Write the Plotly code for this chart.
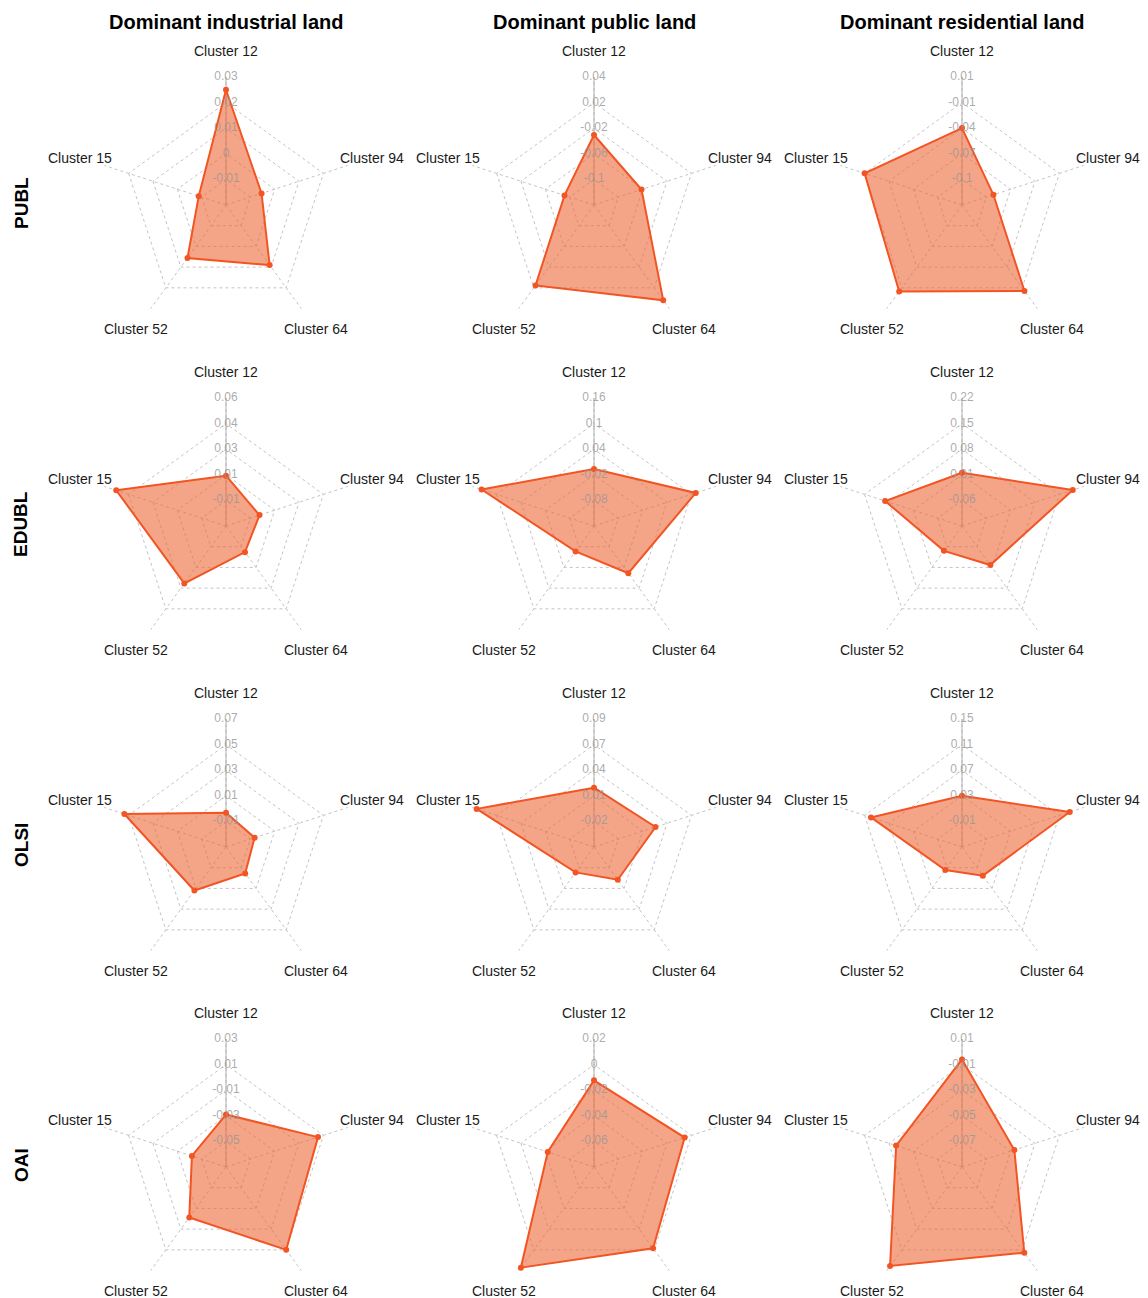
import math
import plotly.graph_objects as go

# ---- data -------------------------------------------------------------
clusters = ["Cluster 12", "Cluster 94", "Cluster 64", "Cluster 52", "Cluster 15"]
land_types = ["Dominant industrial land", "Dominant public land", "Dominant residential land"]
indicators = ["PUBL", "EDUBL", "OLSI", "OAI"]

# values per land type, in the order of `clusters`
publ_values = [
    [0.0250, -0.0054, 0.0090, 0.0056, -0.0088],
    [-0.0393, -0.0667, 0.0260, 0.0010, -0.0926],
    [-0.0449, -0.0920, -0.0134, -0.0127, -0.0175],
]
edubl_values = [
    [0.0069, -0.0034, -0.0054, 0.0210, 0.0514],
    [-0.0065, 0.1107, -0.0032, -0.0664, 0.1370],
    [0.0157, 0.1885, 0.0020, -0.0460, 0.0910],
]
olsi_values = [
    [-0.0032, -0.0065, -0.0045, 0.0120, 0.0535],
    [0.0162, 0.0220, -0.0040, -0.0138, 0.0850],
    [0.0300, 0.1270, 0.0054, -0.0056, 0.0995],
]
oai_values = [
    [-0.0290, 0.0056, 0.0100, -0.0212, -0.0420],
    [-0.0123, -0.0055, -0.0015, 0.0172, -0.0420],
    [-0.0060, -0.0470, -0.0072, 0.0056, -0.0359],
]

# radial axis (value at centre, value at outer ring) per chart
publ_axis = [(-0.02, 0.03), (-0.135, 0.04), (-0.1275, 0.01)]
edubl_axis = [(-0.0275, 0.06), (-0.14, 0.16), (-0.13, 0.22)]
olsi_axis = [(-0.03, 0.07), (-0.0475, 0.09), (-0.05, 0.15)]
oai_axis = [(-0.07, 0.03), (-0.08, 0.02), (-0.09, 0.01)]

# ring labels, from innermost ring to outer ring
publ_ticks = [
    ["-0.01", "0", "0.01", "0.02", "0.03"],
    ["-0.1", "-0.06", "-0.02", "0.02", "0.04"],
    ["-0.1", "-0.07", "-0.04", "-0.01", "0.01"],
]
edubl_ticks = [
    ["-0.01", "0.01", "0.03", "0.04", "0.06"],
    ["-0.08", "-0.02", "0.04", "0.1", "0.16"],
    ["-0.06", "0.01", "0.08", "0.15", "0.22"],
]
olsi_ticks = [
    ["-0.01", "0.01", "0.03", "0.05", "0.07"],
    ["-0.02", "0.01", "0.04", "0.07", "0.09"],
    ["-0.01", "0.03", "0.07", "0.11", "0.15"],
]
oai_ticks = [
    ["-0.05", "-0.03", "-0.01", "0.01", "0.03"],
    ["-0.06", "-0.04", "-0.02", "0", "0.02"],
    ["-0.07", "-0.05", "-0.03", "-0.01", "0.01"],
]

values = [publ_values, edubl_values, olsi_values, oai_values]
axes = [publ_axis, edubl_axis, olsi_axis, oai_axis]
ticks = [publ_ticks, edubl_ticks, olsi_ticks, oai_ticks]

# ---- layout geometry ---------------------------------------------------
W, H = 1148, 1298
col_cx = [226, 594, 962]
row_cy = [205, 526, 847, 1167]
R = 128            # radius of the outer ring, px
N_SEG = 5
LABEL_R = 1.2 * R  # distance of the cluster names from the centre
N_PANELS = len(indicators) * len(land_types)

FONT = "Liberation Sans, Arial, Helvetica, sans-serif"
LINE = "rgb(242, 85, 35)"
FILL = "rgba(236, 100, 50, 0.58)"
GRID = "#c4c4c4"


def polar_name(n):
    return "polar" if n == 1 else f"polar{n}"


fig = go.Figure()
layout_polars = {}
annotations = []

idx = 0
for i, ind in enumerate(indicators):
    for j, land in enumerate(land_types):
        idx += 1
        grid_sub = polar_name(idx)             # pentagon grid + filled polygon
        top_sub = polar_name(idx + N_PANELS)   # points and ring labels on top
        lo, hi = axes[i][j]
        step = (hi - lo) / N_SEG
        # counted down from the outer value so the last ring is exactly `hi`
        rings = [hi - step * (N_SEG - k) for k in range(1, N_SEG + 1)]

        cx, cy = col_cx[j], row_cy[i]
        domain = dict(
            x=[(cx - R) / W, (cx + R) / W],
            y=[1 - (cy + R) / H, 1 - (cy - R) / H],
        )
        angular_common = dict(
            type="category",
            categoryarray=clusters,
            direction="clockwise",
            rotation=90,
            showticklabels=False,
            ticks="",
            showline=False,
        )
        layout_polars[grid_sub] = dict(
            domain=domain,
            bgcolor="rgba(0,0,0,0)",
            gridshape="linear",
            angularaxis=dict(
                **angular_common,
                showgrid=True,
                gridcolor=GRID,
                griddash="dot",
                gridwidth=1,
            ),
            radialaxis=dict(
                range=[lo, hi],
                tickvals=rings,
                showticklabels=False,
                ticks="",
                showline=True,
                linecolor="#b0b0b0",
                linewidth=1,
                showgrid=True,
                gridcolor=GRID,
                griddash="dot",
                gridwidth=1,
                angle=90,
                layer="below traces",
            ),
        )
        layout_polars[top_sub] = dict(
            domain=domain,
            bgcolor="rgba(0,0,0,0)",
            angularaxis=dict(**angular_common, showgrid=False),
            radialaxis=dict(
                range=[lo, hi],
                showticklabels=False,
                ticks="",
                showline=False,
                showgrid=False,
                angle=90,
            ),
        )

        v = values[i][j]
        # filled polygon and its outline
        fig.add_trace(go.Scatterpolar(
            r=v + [v[0]],
            theta=clusters + [clusters[0]],
            mode="lines",
            fill="toself",
            fillcolor=FILL,
            line=dict(color=LINE, width=2),
            showlegend=False,
            hoverinfo="skip",
            subplot=grid_sub,
        ))
        # vertex points
        fig.add_trace(go.Scatterpolar(
            r=v,
            theta=clusters,
            mode="markers",
            marker=dict(color=LINE, size=6),
            cliponaxis=False,
            showlegend=False,
            name=f"{ind} - {land}",
            subplot=top_sub,
        ))
        # ring labels along the Cluster 12 spoke
        fig.add_trace(go.Scatterpolar(
            r=rings,
            theta=[clusters[0]] * N_SEG,
            text=ticks[i][j],
            mode="text",
            textposition="middle center",
            textfont=dict(family=FONT, size=12, color="rgba(150,150,150,0.8)"),
            cliponaxis=False,
            hoverinfo="skip",
            showlegend=False,
            subplot=top_sub,
        ))

        # cluster names around the outer ring (clockwise from the top)
        for k, name in enumerate(clusters):
            ang = math.radians(90 - 360 / len(clusters) * k)
            annotations.append(dict(
                text=name,
                x=(cx + LABEL_R * math.cos(ang)) / W,
                y=1 - (cy - LABEL_R * math.sin(ang)) / H,
                xref="paper", yref="paper",
                xanchor="center", yanchor="middle",
                showarrow=False,
                font=dict(family=FONT, size=14, color="#1a1a1a"),
            ))

for j, land in enumerate(land_types):
    annotations.append(dict(
        text=f"<b>{land}</b>", x=col_cx[j] / W, y=1 - 22 / H,
        xref="paper", yref="paper", xanchor="center", yanchor="middle",
        showarrow=False, font=dict(family=FONT, size=20, color="black"),
    ))
for i, ind in enumerate(indicators):
    annotations.append(dict(
        text=f"<b>{ind}</b>", x=21 / W, y=1 - (row_cy[i] - 2) / H,
        xref="paper", yref="paper", xanchor="center", yanchor="middle",
        textangle=-90, showarrow=False,
        font=dict(family=FONT, size=19, color="black"),
    ))

fig.update_layout(
    width=W, height=H,
    margin=dict(l=0, r=0, t=0, b=0),
    paper_bgcolor="white",
    plot_bgcolor="white",
    showlegend=False,
    annotations=annotations,
    **layout_polars,
)

fig.write_html("out.html")
